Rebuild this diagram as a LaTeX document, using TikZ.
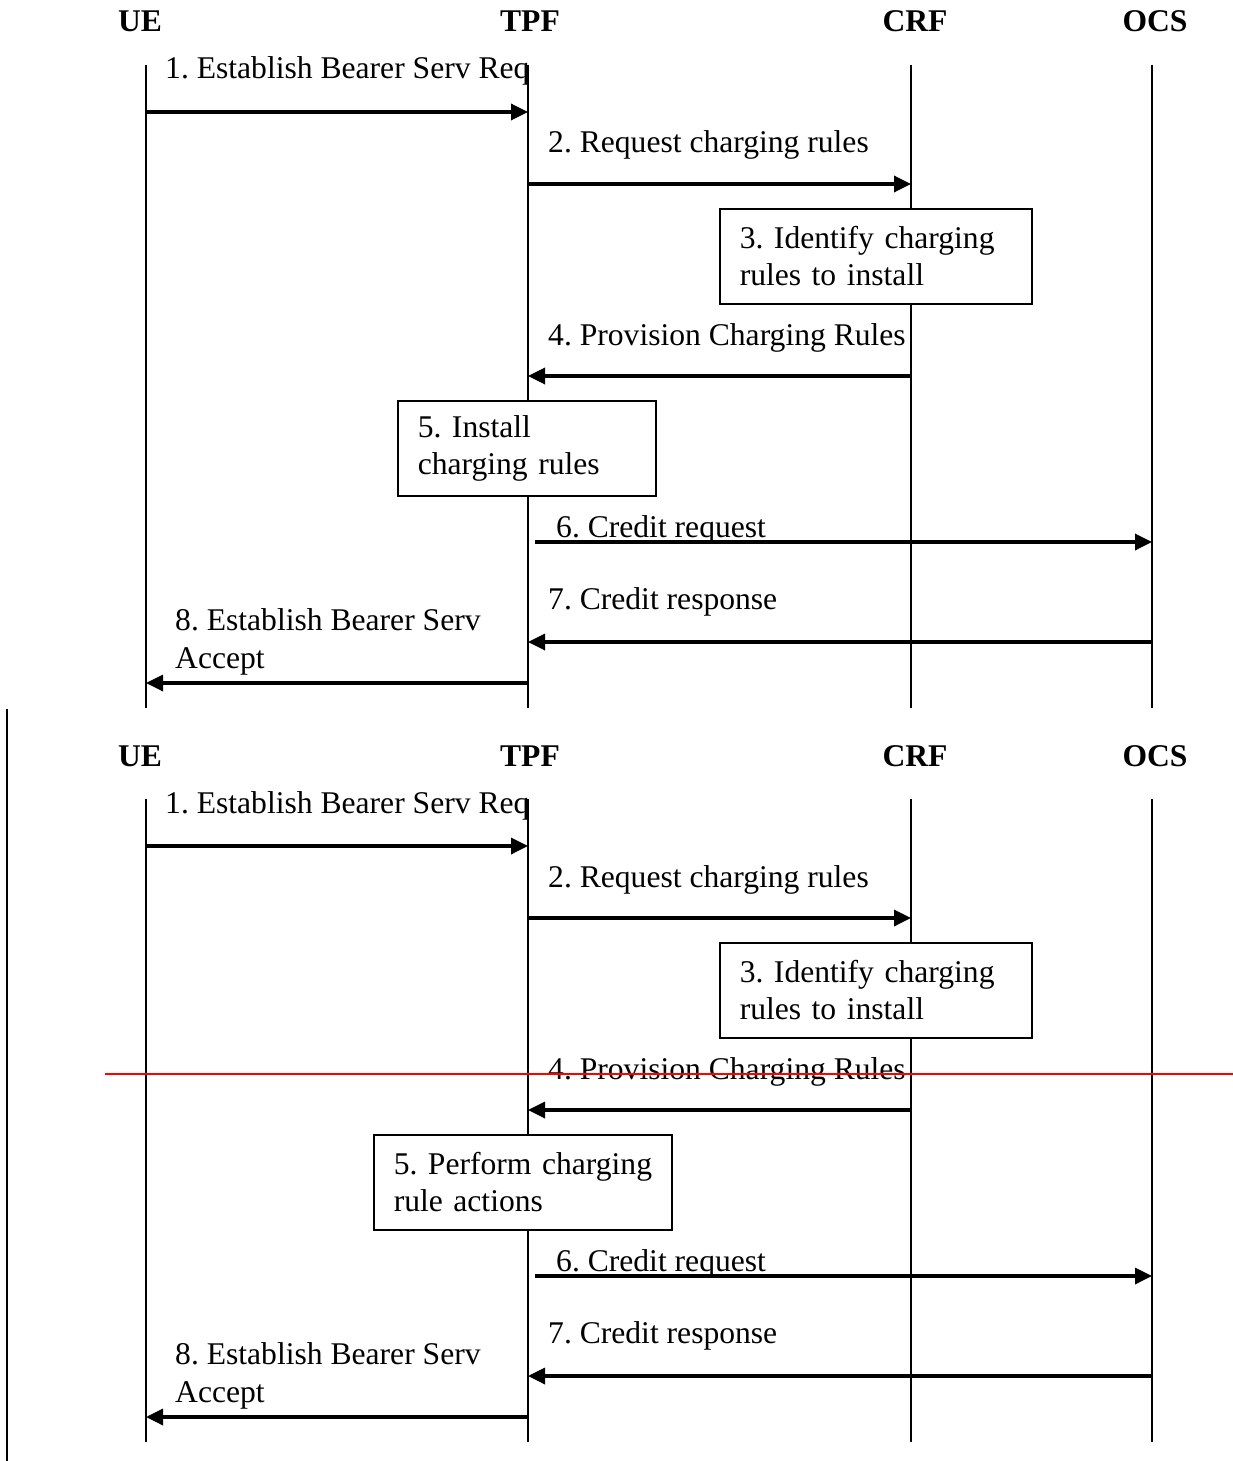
\documentclass[tikz,border=0pt]{standalone}
\usepackage{fontspec}
\setmainfont{Liberation Serif}
\usetikzlibrary{arrows.meta}

\tikzset{
  x=1pt, y=-1pt,
  every node/.style={font=\fontsize{31.6}{37}\selectfont},
  actor/.style={font=\fontsize{31.6}{37}\selectfont\bfseries, anchor=base, inner sep=0pt},
  lifeline/.style={line width=1.5pt},
  msg/.style={line width=3.4pt, -{Triangle[length=17pt,width=16pt]}},
  msglabel/.style={anchor=base west, inner sep=0pt},
  stepbox/.style={draw, fill=white, line width=1.5pt, anchor=north west, align=left,
                  inner xsep=20pt, inner ysep=0pt, minimum height=95pt},
  markline/.style={red, line width=1.6pt},
  sidebar/.style={line width=2pt}
}

% One message sequence chart; #1 = left x of step-5 box,
% #2 = its width, #3 = its text width, #4 = its text
\newcommand\seqchart[4]{%
  \node[actor] (UE)  at (140,32)  {UE};
  \node[actor] (TPF) at (530,32)  {TPF};
  \node[actor] (CRF) at (915,32)  {CRF};
  \node[actor] (OCS) at (1155,32) {OCS};
  \coordinate (ueT)  at (146,65);  \coordinate (ueB)  at (146,708);
  \coordinate (tpfT) at (528,65);  \coordinate (tpfB) at (528,708);
  \coordinate (crfT) at (911,65);  \coordinate (crfB) at (911,708);
  \coordinate (ocsT) at (1152,65); \coordinate (ocsB) at (1152,708);
  \draw[lifeline] (ueT) -- (ueB);
  \draw[lifeline] (tpfT) -- (tpfB);
  \draw[lifeline] (crfT) -- (crfB);
  \draw[lifeline] (ocsT) -- (ocsB);
  % step boxes (opaque, hiding the lifeline behind them)
  \node[stepbox, minimum width=312pt, text width=272pt] (s3) at (719,208)
    {\mbox{3. Identify charging}\\\mbox{rules to install}};
  \node[stepbox, minimum width=#2, text width=#3] (s5) at (#1,400)
    {#4};
  % messages
  \draw[msg] (ueT |- 0,112) -- (tpfT |- 0,112);
  \node[msglabel] (l1) at (165,79) {1. Establish Bearer Serv Req};
  \draw[msg] (tpfT |- 0,184) -- (crfT |- 0,184);
  \node[msglabel] (l2) at (548,153) {2. Request charging rules};
  \draw[msg] (crfT |- 0,376) -- (tpfT |- 0,376);
  \node[msglabel] (l4) at (548,345) {4. Provision Charging Rules};
  \coordinate (m6) at (535,542);
  \draw[msg] (m6) -- (ocsT |- m6);
  \node[msglabel] (l6) at (556,537) {6. Credit request};
  \draw[msg] (ocsT |- 0,642) -- (tpfT |- 0,642);
  \node[msglabel] (l7) at (548,609) {7. Credit response};
  \draw[msg] (tpfT |- 0,683) -- (ueT |- 0,683);
  \node[msglabel] (l8a) at (175,630) {8. Establish Bearer Serv};
  \node[msglabel] (l8b) at (175,668) {Accept};
}

\begin{document}
\frenchspacing
\begin{tikzpicture}
  \useasboundingbox (0,0) rectangle (1233,1461);
  \fill[white] (0,0) rectangle (1233,1461);

  \begin{scope}[name prefix=a-]
    \seqchart{397}{258pt}{218pt}{\mbox{5. Install}\\\mbox{charging rules}}
  \end{scope}

  \begin{scope}[name prefix=b-, shift={(0,734)}]
    \seqchart{373}{298pt}{258pt}{\mbox{5. Perform charging}\\\mbox{rule actions}}
  \end{scope}

  % bar at the left of the second chart
  \coordinate (barT) at (7,709);
  \coordinate (barB) at (7,1461);
  \draw[sidebar] (barT) -- (barB);

  % horizontal red mark across the second chart
  \coordinate (redL) at (105,1074);
  \coordinate (redR) at (1233,1074);
  \draw[markline] (redL) -- (redR);
\end{tikzpicture}
\end{document}
